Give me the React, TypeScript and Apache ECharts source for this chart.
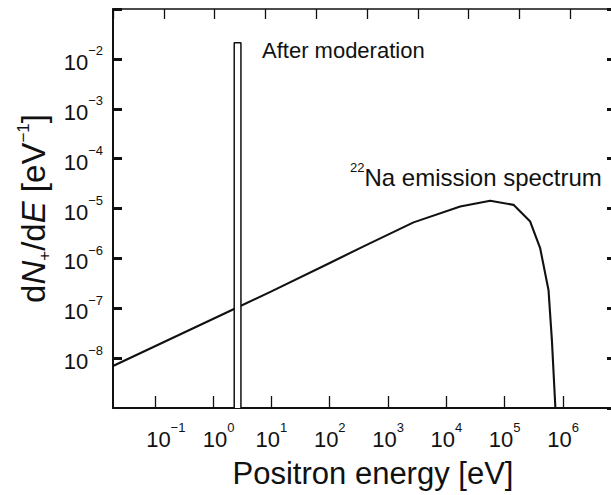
import { useEffect, useRef } from "react";
import * as echarts from "echarts";

// ---- data ----
// 22Na positron emission spectrum (energy in eV, dN+/dE in eV^-1)
const spectrumEnergy = [0.0192, 2.24, 10, 100, 380, 2735, 17260, 56360, 141600, 273500, 405500, 563600, 644200, 740000];
const spectrumValue = [6.97e-9, 9.57e-8, 2.18e-7, 8.1e-7, 1.74e-6, 5.27e-6, 1.094e-5, 1.426e-5, 1.183e-5, 5.47e-6, 1.6e-6, 2.33e-7, 2.32e-8, 1e-9];

// moderated positrons: narrow peak
const moderatedEnergy = [2.3, 3.0];
const moderatedPeak = 0.021;

// axis ranges and labelled decades
const xRange = [0.0192, 8.1e6];
const yRange = [1e-9, 1e-1];
const xLabelExponents = [-1, 0, 1, 2, 3, 4, 5, 6];
const yLabelExponents = [-8, -7, -6, -5, -4, -3, -2];
const topTickRange = [0, 9.9];

const FONT = "'Liberation Sans', Arial, Helvetica, sans-serif";
const INK = "#111";

function powLabel(v: number, shown: number[], shiftSmall: boolean): string {
  const l = Math.log10(v);
  const e = Math.round(l);
  if (Math.abs(l - e) > 1e-4 || shown.indexOf(e) < 0) return "";
  const sup = e < 0 ? "\u2212" + -e : String(e);
  let base = "b";
  if (shiftSmall) {
    if (e < 0) base = "bn";
    else if (e === 0) base = "bz";
  }
  return `{${base}|10}{s|${sup}}`;
}

const baseRich = {
  fontSize: 22,
  lineHeight: 29,
  verticalAlign: "bottom",
  fontFamily: FONT,
  color: INK,
};
const labelRich: any = {
  b: { ...baseRich },
  bn: { ...baseRich, padding: [0, 0, 0, 22] },
  bz: { ...baseRich, padding: [0, 0, 0, 11] },
  s: { fontSize: 13, lineHeight: 13, verticalAlign: "top", fontFamily: FONT, color: INK },
};

export default function App() {
  const ref = useRef<HTMLDivElement>(null);
  useEffect(() => {
    if (!ref.current) return;
    const chart = echarts.init(ref.current, undefined, { renderer: "svg" });

    const spectrumData = spectrumEnergy.map((e, i) => [e, spectrumValue[i]]);
    const moderatedData = [
      [moderatedEnergy[0], yRange[0]],
      [moderatedEnergy[0], moderatedPeak],
      [moderatedEnergy[1], moderatedPeak],
      [moderatedEnergy[1], yRange[0]],
    ];

    chart.setOption({
      animation: false,
      backgroundColor: "#fff",
      grid: { left: 113, top: 9, right: -5, bottom: 87, outerBoundsMode: "none" },
      xAxis: [
        {
          type: "log",
          logBase: 10,
          position: "bottom",
          min: xRange[0],
          max: xRange[1],
          axisLine: { show: true, onZero: false, lineStyle: { color: INK, width: 2 } },
          axisTick: { show: true, inside: true, length: 12, lineStyle: { color: INK, width: 1.3 } },
          minorTick: { show: false },
          splitLine: { show: false },
          axisLabel: {
            margin: 13,
            showMinLabel: false,
            showMaxLabel: false,
            formatter: (v: number) => powLabel(v, xLabelExponents, true),
            rich: labelRich,
          },
          name: "Positron energy [eV]",
          nameLocation: "middle",
          nameGap: 50,
          nameTextStyle: { fontSize: 31, fontFamily: FONT, color: INK, padding: [0, 0, 0, 17] },
        },
        {
          type: "value",
          position: "top",
          min: topTickRange[0],
          max: topTickRange[1],
          interval: 1,
          axisLine: { show: true, onZero: false, lineStyle: { color: INK, width: 1.6 } },
          axisTick: { show: true, inside: true, length: 10, lineStyle: { color: INK, width: 1.3 } },
          axisLabel: { show: false },
          splitLine: { show: false },
        },
      ],
      yAxis: [
        {
          type: "log",
          logBase: 10,
          position: "left",
          min: yRange[0],
          max: yRange[1],
          axisLine: { show: true, onZero: false, lineStyle: { color: INK, width: 2 } },
          axisTick: { show: true, inside: true, length: 9, lineStyle: { color: INK, width: 3 } },
          minorTick: { show: false },
          splitLine: { show: false },
          axisLabel: {
            margin: 10,
            showMinLabel: false,
            showMaxLabel: false,
            formatter: (v: number) => powLabel(v, yLabelExponents, false),
            rich: labelRich,
          },
          name: "{t|d}{i|N}{sb|+}{t|/d}{i|E}{t| [eV}{sp|\u22121}{t|]}",
          nameLocation: "middle",
          nameRotate: 90,
          nameGap: 58,
          nameTextStyle: {
            rich: {
              t: { fontSize: 33, lineHeight: 38, verticalAlign: "middle", fontFamily: FONT, color: INK },
              i: { fontSize: 33, lineHeight: 38, verticalAlign: "middle", fontStyle: "italic", fontFamily: FONT, color: INK },
              sb: { fontSize: 17, lineHeight: 17, verticalAlign: "bottom", fontFamily: FONT, color: INK },
              sp: { fontSize: 17, lineHeight: 17, verticalAlign: "top", fontFamily: FONT, color: INK },
            },
          },
        },
        {
          type: "log",
          logBase: 10,
          position: "right",
          min: yRange[0],
          max: yRange[1],
          axisLine: { show: true, onZero: false, lineStyle: { color: INK, width: 2 } },
          axisTick: { show: true, inside: true, length: 9, lineStyle: { color: INK, width: 3 } },
          minorTick: { show: false },
          splitLine: { show: false },
          axisLabel: { show: false },
        },
      ],
      series: [
        {
          type: "line",
          name: "22Na emission spectrum",
          xAxisIndex: 0,
          yAxisIndex: 0,
          data: spectrumData,
          showSymbol: false,
          symbol: "none",
          lineStyle: { color: INK, width: 2.1 },
          z: 2,
        },
        {
          type: "line",
          name: "After moderation",
          xAxisIndex: 0,
          yAxisIndex: 0,
          data: moderatedData,
          showSymbol: false,
          symbol: "none",
          lineStyle: { color: INK, width: 1.5 },
          areaStyle: { color: "#fff", opacity: 1, origin: "start" },
          z: 3,
        },
      ],
      graphic: [
        {
          type: "text",
          x: 262,
          y: 50.3,
          style: {
            text: "After moderation",
            font: `22px ${FONT}`,
            fill: INK,
            textAlign: "left",
            textVerticalAlign: "middle",
          },
          z: 10,
        },
        {
          type: "text",
          x: 350,
          y: 175,
          style: {
            text: "{s|22}{b|Na emission spectrum}",
            textAlign: "left",
            textVerticalAlign: "middle",
            rich: {
              s: { fontSize: 13, lineHeight: 13, verticalAlign: "top", fontFamily: FONT, fill: INK },
              b: { fontSize: 24, lineHeight: 28, verticalAlign: "bottom", fontFamily: FONT, fill: INK },
            },
          },
          z: 10,
        },
      ],
    });
    return () => chart.dispose();
  }, []);
  return (
    <div
      ref={ref}
      style={{ position: "absolute", left: 0, top: 0, width: 611, height: 495, background: "#fff" }}
    />
  );
}
